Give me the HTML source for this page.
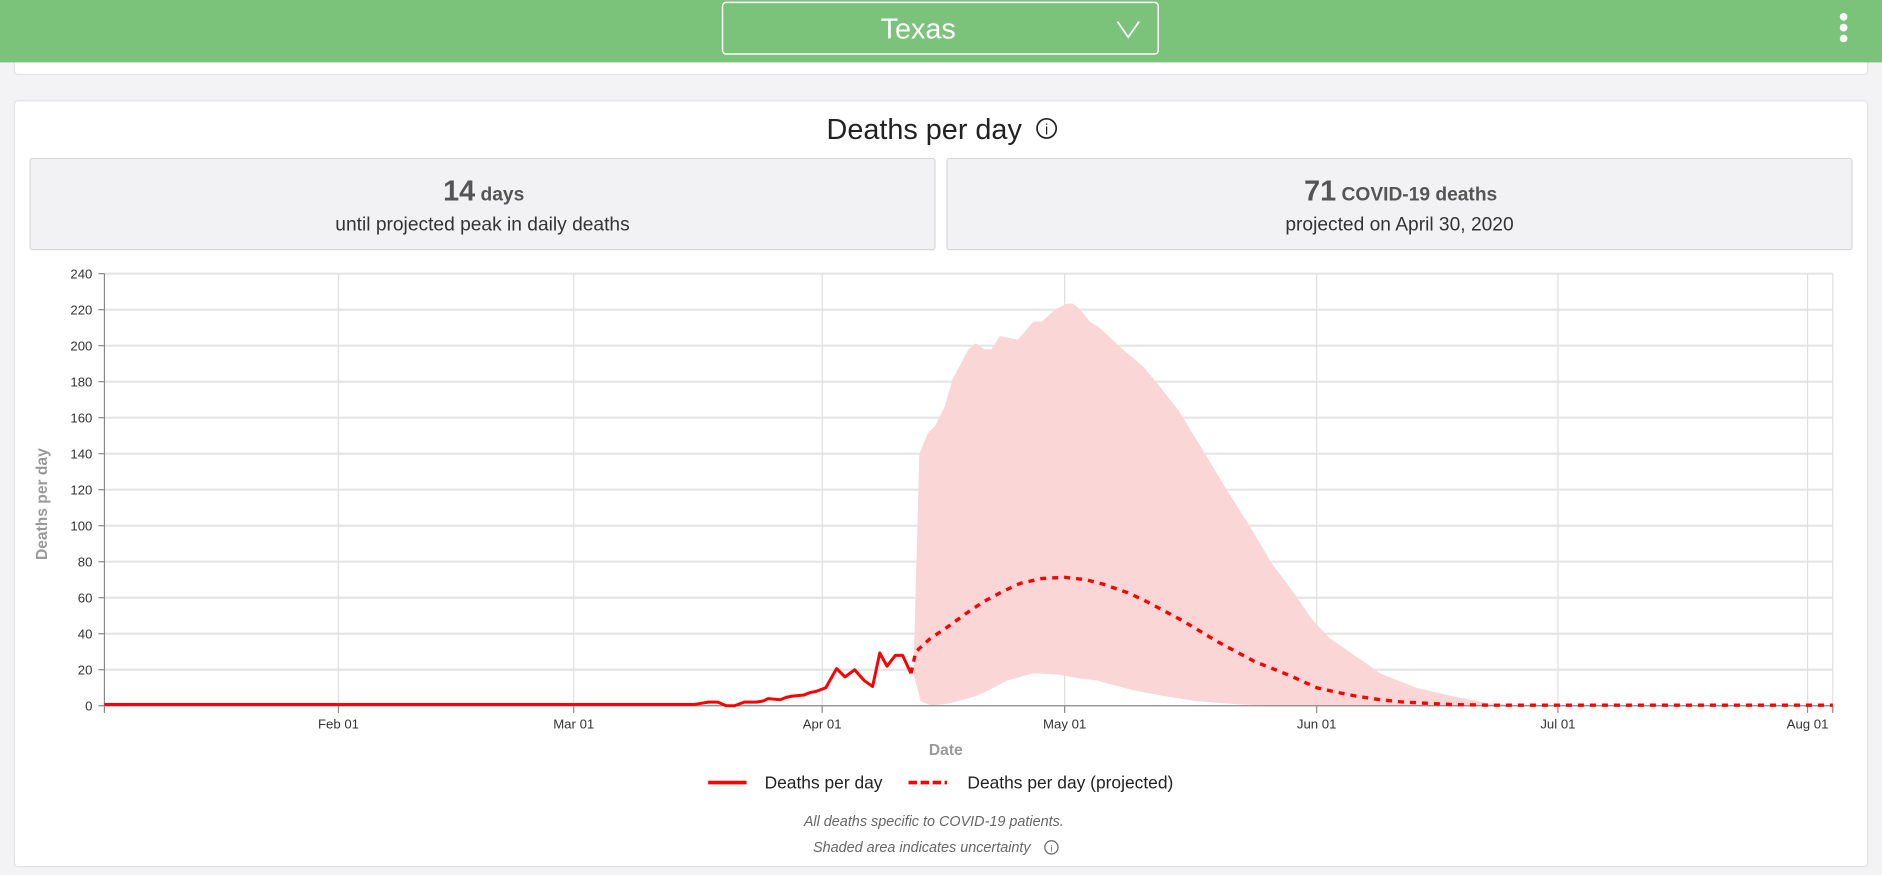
<!DOCTYPE html>
<html><head><meta charset="utf-8"><style>
html,body{margin:0;padding:0;background:#f3f3f5;}
svg{display:block;font-family:"Liberation Sans",Arial,sans-serif;}
</style></head><body>
<svg width="1882" height="875" viewBox="0 0 1568 729" xmlns="http://www.w3.org/2000/svg">
<rect width="1568" height="729" fill="#f3f3f5"/>
<rect x="12" y="40" width="1544" height="22" rx="3" fill="#fff" stroke="#e2e2e2"/>
<rect x="0" y="0" width="1568" height="52" fill="#7bc37a"/>
<rect x="602" y="2" width="363" height="43" rx="3" fill="none" stroke="#fff" stroke-width="1.2"/>
<text x="765" y="32" font-size="24" fill="#fff" text-anchor="middle">Texas</text>
<path d="M931 18 L940 31 L949 18" fill="none" stroke="#fff" stroke-width="1.5"/>
<circle cx="1536" cy="14" r="3.2" fill="#fff"/><circle cx="1536" cy="23" r="3.2" fill="#fff"/><circle cx="1536" cy="32" r="3.2" fill="#fff"/>
<rect x="12" y="84" width="1544" height="638" rx="3" fill="#fff" stroke="#e2e2e2"/>
<text x="770" y="116" font-size="24" fill="#222" text-anchor="middle">Deaths per day</text>
<circle cx="872" cy="107" r="8" fill="none" stroke="#222" stroke-width="1.4"/>
<text x="872" y="112" font-size="12" fill="#222" text-anchor="middle">i</text>
<rect x="25" y="132" width="754" height="76" rx="2" fill="#f2f2f4" stroke="#d8d8d8"/>
<rect x="789" y="132" width="754" height="76" rx="2" fill="#f2f2f4" stroke="#d8d8d8"/>
<text x="403" y="167" text-anchor="middle" fill="#555" font-weight="bold"><tspan font-size="24">14</tspan><tspan font-size="16"> days</tspan></text>
<text x="402" y="192" text-anchor="middle" fill="#333" font-size="16">until projected peak in daily deaths</text>
<text x="1167" y="167" text-anchor="middle" fill="#555" font-weight="bold"><tspan font-size="24">71</tspan><tspan font-size="16"> COVID-19 deaths</tspan></text>
<text x="1166" y="192" text-anchor="middle" fill="#333" font-size="16">projected on April 30, 2020</text>
<g stroke="#e5e5e5" stroke-width="1.8">
<line x1="87" x2="1527" y1="228" y2="228"/><line x1="87" x2="1527" y1="258" y2="258"/><line x1="87" x2="1527" y1="288" y2="288"/><line x1="87" x2="1527" y1="318" y2="318"/><line x1="87" x2="1527" y1="348" y2="348"/><line x1="87" x2="1527" y1="378" y2="378"/><line x1="87" x2="1527" y1="408" y2="408"/><line x1="87" x2="1527" y1="438" y2="438"/><line x1="87" x2="1527" y1="468" y2="468"/><line x1="87" x2="1527" y1="498" y2="498"/><line x1="87" x2="1527" y1="528" y2="528"/><line x1="87" x2="1527" y1="558" y2="558"/>
</g>
<g stroke="#e0e0e0" stroke-width="1">
<line x1="282" x2="282" y1="228" y2="588"/><line x1="478" x2="478" y1="228" y2="588"/><line x1="685" x2="685" y1="228" y2="588"/><line x1="887" x2="887" y1="228" y2="588"/><line x1="1097" x2="1097" y1="228" y2="588"/><line x1="1298" x2="1298" y1="228" y2="588"/><line x1="1506" x2="1506" y1="228" y2="588"/><line x1="1527" x2="1527" y1="228" y2="588"/>
</g>
<path fill="#fbd6d6" d="M761 561 L766 378 L773 361 L779 355 L787 339 L794 315 L807 291 L813 286 L820 291 L826 291 L833 280 L848 283 L861 268 L868 268 L879 258 L889 253 L894 253 L900 258 L908 268 L916 273 L933 289 L952 305 L963 318 L982 342 L1004 378 L1022 408 L1041 438 L1060 470 L1078 494 L1093 516 L1108 532 L1133 549 L1150 561 L1180 573 L1210 580 L1240 586 L1270 588 L1063 588 L1033 587 L996 584 L970 580 L944 575 L925 570 L914 567 L898 565 L881 562 L861 561 L839 567 L824 575 L813 580 L791 586 L776 588 L767 584 Z"/>
<line x1="87" y1="228" x2="87" y2="594" stroke="#888" stroke-width="1"/>
<line x1="87" y1="588" x2="1527" y2="588" stroke="#888" stroke-width="1"/>
<g stroke="#888" stroke-width="1">
<line x1="82" x2="87" y1="228" y2="228"/><line x1="82" x2="87" y1="258" y2="258"/><line x1="82" x2="87" y1="288" y2="288"/><line x1="82" x2="87" y1="318" y2="318"/><line x1="82" x2="87" y1="348" y2="348"/><line x1="82" x2="87" y1="378" y2="378"/><line x1="82" x2="87" y1="408" y2="408"/><line x1="82" x2="87" y1="438" y2="438"/><line x1="82" x2="87" y1="468" y2="468"/><line x1="82" x2="87" y1="498" y2="498"/><line x1="82" x2="87" y1="528" y2="528"/><line x1="82" x2="87" y1="558" y2="558"/><line x1="82" x2="87" y1="588" y2="588"/>
<line x1="282" x2="282" y1="588" y2="594"/><line x1="478" x2="478" y1="588" y2="594"/><line x1="685" x2="685" y1="588" y2="594"/><line x1="887" x2="887" y1="588" y2="594"/><line x1="1097" x2="1097" y1="588" y2="594"/><line x1="1298" x2="1298" y1="588" y2="594"/><line x1="1506" x2="1506" y1="588" y2="594"/><line x1="1527" x2="1527" y1="588" y2="594"/>
</g>
<g font-size="11" fill="#333" text-anchor="end">
<text x="77" y="232">240</text><text x="77" y="262">220</text><text x="77" y="292">200</text><text x="77" y="322">180</text><text x="77" y="352">160</text><text x="77" y="382">140</text><text x="77" y="412">120</text><text x="77" y="442">100</text><text x="77" y="472">80</text><text x="77" y="502">60</text><text x="77" y="532">40</text><text x="77" y="562">20</text><text x="77" y="592">0</text>
</g>
<g font-size="11" fill="#333" text-anchor="middle">
<text x="282" y="607">Feb 01</text><text x="478" y="607">Mar 01</text><text x="685" y="607">Apr 01</text><text x="887" y="607">May 01</text><text x="1097" y="607">Jun 01</text><text x="1298" y="607">Jul 01</text><text x="1506" y="607">Aug 01</text>
</g>
<text transform="translate(39,420) rotate(-90)" font-size="13" font-weight="bold" fill="#999" text-anchor="middle">Deaths per day</text>
<text x="788" y="629" font-size="13" font-weight="bold" fill="#999" text-anchor="middle">Date</text>
<polyline fill="none" stroke="#f00" stroke-width="2.5" stroke-linejoin="round" points="87,587 578,587 590,585 598,585 605,588 612,588 620,585 630,585 636,584 640,582 650,583 655,581 660,580 670,579 675,577 680,576 688,573 697,557 704,564 712,558 720,567 727,572 733,544 739,555 746,546 752,546 759,561"/>
<polyline fill="none" stroke="#f00" stroke-width="2.8" stroke-dasharray="5,5" points="759,561 763,543 775,532 790,522 805,511 820,501 835,493 850,486 868,482 887,481 905,483 920,487 940,494 955,501 970,509 985,517 1000,526 1015,535 1030,543 1045,551 1060,557 1075,563 1097,573 1115,577 1130,580 1150,583 1170,585 1190,586 1210,587 1240,587.5 1527,587.5"/>
<line x1="590" y1="652" x2="622" y2="652" stroke="#f00" stroke-width="3"/>
<text x="637" y="657" font-size="14.5" fill="#222">Deaths per day</text>
<line x1="757" y1="652" x2="789" y2="652" stroke="#f00" stroke-width="3" stroke-dasharray="7,3"/>
<text x="806" y="657" font-size="14.5" fill="#222">Deaths per day (projected)</text>
<text x="778" y="688" font-size="12" font-style="italic" fill="#666" text-anchor="middle">All deaths specific to COVID-19 patients.</text>
<text x="768" y="710" font-size="12" font-style="italic" fill="#666" text-anchor="middle">Shaded area indicates uncertainty</text>
<circle cx="876" cy="706" r="5.5" fill="none" stroke="#666" stroke-width="1"/>
<text x="876" y="709.5" font-size="8" fill="#666" text-anchor="middle">i</text>
</svg>
</body></html>
